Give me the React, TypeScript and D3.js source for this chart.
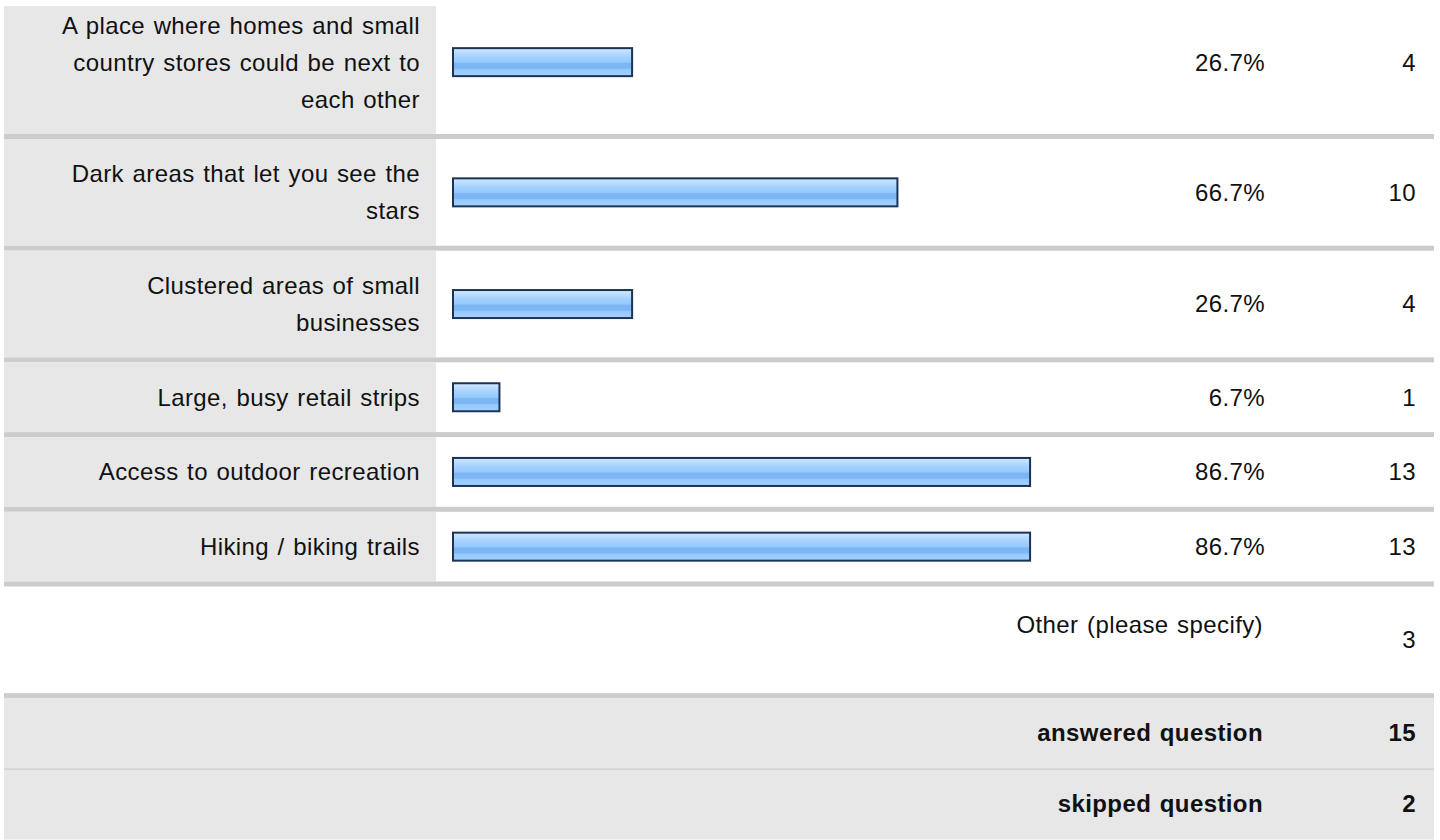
import * as d3 from "d3";

const answerChoices = [
  "A place where homes and small country stores could be next to each other",
  "Dark areas that let you see the stars",
  "Clustered areas of small businesses",
  "Large, busy retail strips",
  "Access to outdoor recreation",
  "Hiking / biking trails",
];
const responsePercents = [26.7, 66.7, 26.7, 6.7, 86.7, 86.7];
const responseCounts = [4, 10, 4, 1, 13, 13];
const otherLabel = "Other (please specify)";
const otherCount = 3;
const summaryLabels = ["answered question", "skipped question"];
const summaryCounts = [15, 2];

const W = 1440;
const H = 840;
const left = 4;
const right = 1434;
const labelColRight = 436;
const labelX = 420;
const pctX = 1265;
const countX = 1416;
const sep = 5;
const oneLine = 69.7;
const lineH = 37;
const fontSize = 24;
const letterSp = 0.4;
const wordSp = 1.5;
const font = "'Liberation Sans', Arial, sans-serif";

function wrap(text: string, maxWidth: number): string[] {
  const ctx = document.createElement("canvas").getContext("2d")!;
  ctx.font = `${fontSize}px ${font}`;
  const measure = (s: string) =>
    ctx.measureText(s).width + s.length * letterSp + (s.split(" ").length - 1) * wordSp;
  const words = text.split(" ");
  const lines: string[] = [];
  let cur = "";
  for (const w of words) {
    const t = cur ? cur + " " + w : w;
    if (measure(t) > maxWidth && cur) {
      lines.push(cur);
      cur = w;
    } else cur = t;
  }
  if (cur) lines.push(cur);
  return lines;
}

export default function App() {
  const wrapped = answerChoices.map((c) => wrap(c, 385));
  const heights = wrapped.map((l) => oneLine + lineH * (l.length - 1));
  // first row is cut off at the top of the picture
  const top0 = 134 - heights[0];
  const tops = heights.map((_, i) => top0 + d3.sum(heights.slice(0, i)) + sep * i);

  const x = d3.scaleLinear().domain([0, 100]).range([454, 454 + 663.3]);
  const barH = 30;

  const otherTop = tops[5] + heights[5] + sep;
  const otherH = oneLine + lineH;
  const sumTop = otherTop + otherH + sep;

  const textStyle = { letterSpacing: `${letterSp}px`, wordSpacing: `${wordSp}px` };

  return (
    <svg
      width={W}
      height={H}
      style={{ position: "absolute", left: 0, top: 0, background: "#fff" }}
      fontFamily={font}
      fontSize={fontSize}
    >
      <defs>
        <linearGradient id="barFill" x1="0" y1="0" x2="0" y2="1">
          <stop offset="0" stopColor="#d4e9ff" />
          <stop offset="0.14" stopColor="#bcdeff" />
          <stop offset="0.3" stopColor="#a6d2ff" />
          <stop offset="0.5" stopColor="#95c9ff" />
          <stop offset="0.55" stopColor="#7bb5f3" />
          <stop offset="0.72" stopColor="#7db6f3" />
          <stop offset="0.76" stopColor="#94c8fd" />
          <stop offset="1" stopColor="#a4d2ff" />
        </linearGradient>
        <clipPath id="view">
          <rect x={0} y={6} width={W} height={H} />
        </clipPath>
      </defs>
      <g clipPath="url(#view)" style={textStyle}>
        {answerChoices.map((c, i) => {
          const y0 = tops[i];
          const h = heights[i];
          const cy = y0 + h / 2;
          const lines = wrapped[i];
          return (
            <g key={c}>
              <rect x={left} y={y0} width={labelColRight - left} height={h} fill="#e7e7e7" />
              <rect x={left} y={y0 + h} width={right - left} height={sep} fill="#cccccc" />
              {lines.map((l, j) => (
                <text
                  key={j}
                  x={labelX}
                  y={cy + (j - (lines.length - 1) / 2) * lineH}
                  dy="0.35em"
                  textAnchor="end"
                  fill="#111"
                >
                  {l}
                </text>
              ))}
              <rect
                x={453}
                y={cy - barH / 2 + 1}
                width={x(responsePercents[i]) - 454 + 2}
                height={barH - 2}
                fill="url(#barFill)"
                stroke="#1b3456"
                strokeWidth={2}
              />
              <text x={pctX} y={cy} dy="0.35em" textAnchor="end" fill="#111">
                {responsePercents[i].toFixed(1)}%
              </text>
              <text x={countX} y={cy} dy="0.35em" textAnchor="end" fill="#111">
                {responseCounts[i]}
              </text>
            </g>
          );
        })}

        <text x={pctX - 2} y={otherTop + 38} dy="0.35em" textAnchor="end" fill="#111">
          {otherLabel}
        </text>
        <text x={countX} y={otherTop + otherH / 2} dy="0.35em" textAnchor="end" fill="#111">
          {otherCount}
        </text>
        <rect x={left} y={otherTop + otherH} width={right - left} height={sep} fill="#cccccc" />

        {summaryLabels.map((s, i) => {
          const y0 = sumTop + i * (oneLine + 1);
          return (
            <g key={s}>
              <rect x={left} y={y0} width={right - left} height={oneLine + 1} fill="#e7e7e7" />
              {i > 0 && <rect x={left} y={y0 - 0.5} width={right - left} height={1.5} fill="#d2d2d2" />}
              <text
                x={pctX - 2}
                y={y0 + oneLine / 2}
                dy="0.35em"
                textAnchor="end"
                fontWeight="bold"
                fill="#111"
              >
                {s}
              </text>
              <text
                x={countX}
                y={y0 + oneLine / 2}
                dy="0.35em"
                textAnchor="end"
                fontWeight="bold"
                fill="#111"
              >
                {summaryCounts[i]}
              </text>
            </g>
          );
        })}
      </g>
    </svg>
  );
}
